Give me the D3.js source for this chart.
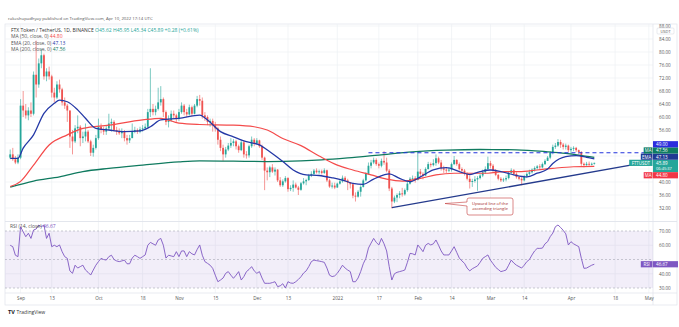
<!DOCTYPE html>
<html><head><meta charset="utf-8">
<script src="https://cdnjs.cloudflare.com/ajax/libs/d3/7.8.5/d3.min.js"></script>
<style>
html,body{margin:0;padding:0;background:#fff;}
svg{display:block;font-family:"Open Sans","Liberation Sans",Arial,sans-serif;}
</style></head><body>
<svg id="chart" width="679" height="327"></svg>
<script>
// ---------------- DATA (daily FTT/USDT candles, first bar 2021-08-28) ----------------
const firstBarDate = "2021-08-28";
const firstOpen = 47.5;
const closes = [
48.5,47.0,46.0,47.5,63.5,62.0,60.5,62.0,61.0,73.0,
70.0,76.5,79.0,72.5,74.0,72.5,67.5,66.0,70.0,68.5,
64.5,63.5,62.0,54.0,52.5,56.5,57.0,53.5,54.0,55.5,
52.5,49.0,50.5,53.5,57.0,56.0,55.5,56.5,58.0,58.5,
56.0,55.5,55.0,55.5,53.5,52.8,53.5,55.5,56.0,55.5,
56.2,56.5,57.0,61.5,62.5,61.5,62.5,64.5,65.5,61.5,
58.5,59.0,61.0,60.5,59.5,61.5,63.5,61.5,60.8,63.0,
61.0,63.5,65.5,65.0,60.5,60.0,58.5,58.8,57.5,56.5,
53.0,50.5,48.5,50.0,51.2,52.0,52.5,51.0,49.8,52.2,
48.5,48.2,51.0,53.0,52.0,52.8,51.0,47.5,43.5,43.0,
44.5,43.2,43.8,40.5,39.0,40.2,41.2,37.8,38.2,39.2,
38.3,37.6,39.6,40.2,40.6,42.0,42.5,43.5,43.0,43.3,
42.8,43.6,40.5,38.6,38.9,38.3,39.5,40.2,41.3,40.5,
39.8,39.3,35.8,35.5,37.0,38.5,40.5,42.5,45.0,46.0,
46.8,45.5,45.0,46.5,46.0,43.5,38.0,34.0,35.2,36.0,
36.5,36.2,37.5,39.5,41.0,41.2,40.6,43.2,42.5,42.0,
44.0,45.5,45.2,45.8,47.3,46.0,44.2,43.8,43.5,43.8,
45.5,46.8,45.5,44.0,43.5,42.5,41.0,40.0,40.3,40.8,
41.2,42.0,43.0,44.0,45.8,45.0,43.5,42.2,41.0,40.5,
40.8,41.2,42.8,43.6,42.5,41.5,41.0,40.5,41.8,42.5,
43.0,43.8,44.3,44.8,44.5,45.5,46.5,47.5,49.0,50.8,
51.2,52.3,51.5,50.8,51.2,49.8,50.2,50.5,49.8,49.2,
45.6,45.2,45.6,45.3,45.61,45.89];
const highs = [
50,50.5,48,48.5,65.5,68,64,63,64.5,74,
83.5,78,81,79.5,75,75.5,73,69,71,71.5,
69,66,64,62,56,57.5,60.5,57.5,55.5,58,
56,53,51.5,54.5,59.5,58,57,57.5,61,59.5,
59,57,56.5,56.5,56,54.5,54.5,58,57,56.5,
57,57.5,58,62.5,75,64,63.5,69,69.5,66,
62,60.5,62,62,61,62.5,64.5,64,62.5,63.8,
63.5,64,66.5,66.8,66,61.5,60.5,59.5,59.5,58.5,
57,54,51.5,50.8,52,53.5,53.2,53,51.5,53,
52.8,49.5,51.5,54,53.5,53.5,53,51.5,47.8,44.5,
45,45.5,44.5,44,41.5,40.8,41.8,41.5,39,40.5,
39.8,38.8,40,41.2,41,42.5,43.3,44,44.2,43.8,
43.8,44.2,43.8,41,39.8,39.8,39.8,40.8,42,41.8,
41,40,39.5,36.8,37.5,39,41,43,46,46.8,
47.5,47.3,46,47.2,49.5,47.5,44,38.5,35.8,36.5,
37.2,38.2,38,40,41.5,42,41.8,49.5,44,43,
44.5,46.2,46,47,48.5,47.8,46.8,45,44.5,44.5,
46,48,47,46,44.5,44,43,42,41,41.8,
41.8,42.5,43.8,44.8,47.8,46.5,45.5,44,42.5,41.5,
41.3,42,43.2,44.2,44,43,41.8,41.5,42.2,43,
43.8,44.2,44.8,45.2,45.5,46,47,48,49.5,51.5,
52,53.2,53,52,51.8,51.5,50.8,51,50.8,50,
49.5,46,46.2,46.3,46,45.95];
const lows = [
47,46.5,45.5,45.5,47,60,59.5,59,60,60.5,
66,69,75,71.5,71,71.5,66,64.5,65.5,67.5,
63.5,62.5,58.5,50.5,48.5,52,55,51,52,52.5,
52,48,47.8,50,53,55,54.5,54.5,56,55.5,
55.5,54.5,54.5,53.5,52.5,51.5,52,53.5,55,54.8,
55,55.5,56,56.5,60,60.5,60.5,62,63.5,60,
57.5,56.8,58.5,59.5,58.5,58.8,61,60.5,60,60.5,
60.3,60.8,63,63.5,59.5,58.8,57.5,57,55.5,55.5,
51.5,49.5,46.5,47.5,49.5,50.5,51,50,49,49.5,
47.5,47.2,47.5,50.5,51,51.5,50.5,46.8,37.5,40.5,
41.5,42.8,42,40,38.5,38.5,39.8,37,37.2,37,
38,36,37.3,39.2,39,40.3,41.5,42,42.6,42.5,
42.3,42.5,40,38.2,38,37.8,38.2,39.2,39.8,40,
37.5,38,35,34,35.2,35.5,38.3,40.2,42.2,44.2,
45.5,45,44.2,44.5,45.3,43,37.2,31.9,33.5,33.8,
35,35.5,35.8,37,39.2,40.3,39.8,40.5,41.8,40.8,
41.8,43.8,44.5,44.8,45,45.5,43.5,42.8,42.8,43,
43.2,45.2,45,43.5,42.8,42,40.5,38,38.5,39.8,
37.3,40.8,41.5,42.5,43.5,44.2,43,41.8,40.5,40,
40,40.2,40.8,42.5,42,41,40.5,39,40.2,41.2,
42,42.6,43.2,43.8,44,44.2,45.2,46.5,47,48.5,
50.2,50.8,50.5,50,50,49.2,48.5,49.5,49.2,48.5,
45,44.5,45,45,45.1,45.34];
const rsiValues = [
60,59,53,52,73,69.5,66,68.4,64.8,70.7,
71.4,74.2,73,74.2,64.8,68.4,59,60,59,60.2,
55.5,52,50.8,42,40.3,46,44,45,46,42.6,
41,39.1,42.6,46,48.5,50.8,50,49.6,52,53,
50,49,48.5,49,49.6,47,47,51,53,52,
50.8,52,53.2,60,62,61,60,63.7,64.8,60,
51,53,52.5,52,55.5,52,56,56,52,55.5,
54,53.2,57,60.2,53,48.5,47.3,46,43.8,39,
34.4,35.6,37,40.3,41.5,39,36.8,39,41.5,35.6,
38,41.5,43,45,42,40.3,41.5,37,33.3,33.3,
33.3,33.8,34.4,31,31.5,33,30,34.4,33.5,33.3,
34.4,36,37.9,40.5,42,45,48.5,49.6,49.2,48.9,
48.5,48,44,39,38,38.5,40.3,43,46,44,
42.6,41.5,34.4,34.4,37,41.5,47,50.8,58,61.5,
64.8,62,60.2,64.8,61,56,45,35.6,40,41,
41.5,42,42.6,48,54.3,54,53.2,60.2,58,55.5,
60,61.3,60.2,61,63.7,60,56,53.2,53.2,53.2,
56,59,55,51,49,47.3,44,42,43.5,44.5,
45.5,48,50.8,52,53.2,49.5,47,44.5,43,41.5,
42,42.6,46,49.6,47.5,46,45,44,46,48.5,
50,53.2,56,57.8,57.8,58,61,62.5,66,68.5,
73,74.2,72.5,70.5,68,60.2,62.5,61,60,59,
50.8,43.8,44,45,46,46.67];
// moving averages: [bar index, value]
const ma50Points = [[0,38.6],[4,40.2],[9,45.2],[15,51.4],[22,54.5],[28,56.5],[38,57.5],[51,59.1],[58,59.6],[65,58.1],[73,57.7],[86,57.5],[94,57.0],[99,56.0],[105,53.4],[112,51.2],[119,48.0],[126,45.2],[132,43.7],[139,42.2],[145,40.9],[151,40.3],[158,41.1],[164,42.2],[171,42.7],[184,42.7],[190,43.2],[196,43.2],[203,43.7],[209,44.2],[217,44.7],[225,44.8]];
const ema20Points = [[0,47.3],[3,47.3],[5,50.4],[9,54.5],[13,61.1],[17,64.2],[19,65.2],[22,64.7],[26,62.2],[29,59.6],[33,56.5],[38,56.0],[44,55.5],[50,55.7],[54,57.0],[58,59.1],[65,59.6],[73,60.6],[76,59.1],[81,55.5],[86,53.9],[91,52.4],[96,51.4],[100,49.3],[105,46.3],[109,43.7],[114,42.2],[119,42.0],[124,41.3],[128,40.6],[132,39.6],[136,39.3],[140,40.9],[144,42.2],[146,42.5],[150,41.1],[154,40.1],[158,41.6],[163,43.7],[168,44.4],[173,43.2],[177,42.3],[181,43.2],[185,43.7],[189,43.2],[194,42.2],[199,41.6],[203,42.7],[207,44.0],[209,45.7],[214,47.8],[218,48.1],[222,47.6],[225,47.13]];
const ma200Points = [[0,38.4],[9,40.3],[19,41.6],[28,43.2],[38,44.2],[51,45.2],[65,46.2],[73,46.5],[86,46.4],[99,46.3],[112,46.5],[120,46.8],[130,47.4],[142,48.3],[155,49.3],[168,49.8],[181,50.0],[195,49.9],[207,49.3],[214,48.8],[219,48.3],[225,47.56]];
const resistanceLevel = 49.0;
const resistanceStartIdx = 138;
const trendlinePoints = [[147,32.1],[246,46.2]];
const calloutLines = ["Upward line of the","ascending triangle"];
const priceTicks = [32,36,40,44,48,52,56,60,64,68,72,76,80,84,88];
const rsiTicks = [30,40,50,60,70];
const timeTickDates = ["2021-09-01","2021-09-13","2021-10-01","2021-10-18","2021-11-01","2021-11-15","2021-12-01","2021-12-13","2022-01-01","2022-01-17","2022-02-01","2022-02-14","2022-03-01","2022-03-14","2022-04-01","2022-04-18","2022-05-01"];
const timeTickLabels = ["Sep","13","Oct","18","Nov","15","Dec","13","2022","17","Feb","14","Mar","14","Apr","18","May"];

// ---------------- SETUP ----------------
const svg = d3.select("#chart");
const parse = d3.utcParse("%Y-%m-%d");
const DAY = 86400000;
const t0 = parse(firstBarDate);
const dateAt = i => new Date(t0.getTime() + i*DAY);
const opens = closes.map((c,i)=> i===0 ? firstOpen : closes[i-1]);
opens[opens.length-1] = 45.62;
const bars = closes.map((c,i)=>({d:dateAt(i),o:opens[i],h:highs[i],l:lows[i],c}));

const L=5, R=653, PT=24, PB=221.5, RT=221.5, RB=293, AX=305, RIGHT=677;
const xStart = new Date(Date.UTC(2021,7,26));
const x = d3.scaleUtc().domain([xStart, new Date(xStart.getTime()+249.6*DAY)]).range([L,R]);
const y = d3.scaleLinear().domain([32,88]).range([208,26]);
const yr = d3.scaleLinear().domain([30,70]).range([288,231]);

const gridC = "#eef0f4", borderC="#e0e3eb", axisText="#555";
const fmt = d3.format(".2f");

// header text
svg.append("text").attr("x",8).attr("y",19.5).attr("font-size",4.3).attr("fill","#555")
  .text("rakeshupadhyay published on TradingView.com, Apr 10, 2022 17:14 UTC");

// frame
svg.append("rect").attr("x",L).attr("y",PT).attr("width",RIGHT-L).attr("height",AX-PT).attr("fill","none").attr("stroke",borderC).attr("stroke-width",0.7);

// grids
const tDates = timeTickDates.map(parse);
svg.append("g").selectAll("line").data(tDates).join("line")
  .attr("x1",d=>x(d)).attr("x2",d=>x(d)).attr("y1",PT).attr("y2",RB).attr("stroke",gridC).attr("stroke-width",0.7);
svg.append("g").selectAll("line").data(priceTicks).join("line")
  .attr("x1",L).attr("x2",R).attr("y1",d=>y(d)).attr("y2",d=>y(d)).attr("stroke",gridC).attr("stroke-width",0.7);
svg.append("g").selectAll("line").data([40,60]).join("line")
  .attr("x1",L).attr("x2",R).attr("y1",d=>yr(d)).attr("y2",d=>yr(d)).attr("stroke",gridC).attr("stroke-width",0.7);

// separators
svg.append("line").attr("x1",R).attr("x2",R).attr("y1",PT).attr("y2",AX).attr("stroke",borderC).attr("stroke-width",0.7);
svg.append("line").attr("x1",L).attr("x2",RIGHT).attr("y1",PB).attr("y2",PB).attr("stroke",borderC).attr("stroke-width",0.9);
svg.append("line").attr("x1",L).attr("x2",RIGHT).attr("y1",RB).attr("y2",RB).attr("stroke",borderC).attr("stroke-width",0.7);

// clips
const defs = svg.append("defs");
defs.append("clipPath").attr("id","cp").append("rect").attr("x",L).attr("y",PT).attr("width",R-L).attr("height",PB-PT);
defs.append("clipPath").attr("id","cr").append("rect").attr("x",L).attr("y",RT).attr("width",R-L).attr("height",RB-RT);

const pg = svg.append("g").attr("clip-path","url(#cp)");
const up="#26a69a", dn="#ef5350";
// candles
const cg = pg.append("g");
cg.selectAll("line").data(bars).join("line")
  .attr("x1",d=>x(d.d)).attr("x2",d=>x(d.d)).attr("y1",d=>y(d.h)).attr("y2",d=>y(d.l))
  .attr("stroke",d=>d.c>=d.o?up:dn).attr("stroke-width",0.6);
cg.selectAll("rect").data(bars).join("rect")
  .attr("x",d=>x(d.d)-0.9).attr("width",1.8)
  .attr("y",d=>y(Math.max(d.o,d.c))).attr("height",d=>Math.max(0.6,Math.abs(y(d.o)-y(d.c))))
  .attr("fill",d=>d.c>=d.o?up:dn);

// lines
const lineGen = d3.line().x(d=>x(dateAt(d[0]))).y(d=>y(d[1])).curve(d3.curveMonotoneX);
pg.append("path").attr("d",lineGen(ma200Points)).attr("fill","none").attr("stroke","#0f7a5f").attr("stroke-width",1.3);
pg.append("path").attr("d",lineGen(ma50Points)).attr("fill","none").attr("stroke","#f44b4b").attr("stroke-width",1.2);
pg.append("path").attr("d",lineGen(ema20Points)).attr("fill","none").attr("stroke","#2438a6").attr("stroke-width",1.3);

// resistance dashed line
pg.append("line").attr("x1",x(dateAt(resistanceStartIdx))).attr("x2",R).attr("y1",y(resistanceLevel)).attr("y2",y(resistanceLevel))
  .attr("stroke","#2233dd").attr("stroke-width",1).attr("stroke-dasharray","4,3");
// trendline
pg.append("path").attr("d",d3.line().x(d=>x(dateAt(d[0]))).y(d=>y(d[1]))(trendlinePoints))
  .attr("fill","none").attr("stroke","#243a8c").attr("stroke-width",1.4);

// callout
const cx0=467, cy0=198, cw=46, ch=17, tipX=445, tipY=203.5;
pg.append("path").attr("d",`M${cx0+2},${cy0} H${cx0+cw-2} Q${cx0+cw},${cy0} ${cx0+cw},${cy0+2} V${cy0+ch-2} Q${cx0+cw},${cy0+ch} ${cx0+cw-2},${cy0+ch} H${cx0+2} Q${cx0},${cy0+ch} ${cx0},${cy0+ch-2} V${cy0+8} L${tipX},${tipY} L${cx0},${cy0+4} V${cy0+2} Q${cx0},${cy0} ${cx0+2},${cy0} Z`)
  .attr("fill","#fff").attr("stroke","#c23a3a").attr("stroke-width",0.6);
calloutLines.forEach((t,i)=>{
  pg.append("text").attr("x",cx0+cw/2).attr("y",cy0+6.5+i*5).attr("text-anchor","middle").attr("font-size",4.2).attr("fill","#a52a2a").text(t);
});

// RSI pane
const rg = svg.append("g").attr("clip-path","url(#cr)");
rg.append("rect").attr("x",L).attr("width",R-L).attr("y",yr(70)).attr("height",yr(30)-yr(70)).attr("fill","#7e57c2").attr("fill-opacity",0.1);
[70,50,30].forEach(v=>rg.append("line").attr("x1",L).attr("x2",R).attr("y1",yr(v)).attr("y2",yr(v)).attr("stroke","#a6a8b3").attr("stroke-width",0.6).attr("stroke-dasharray","2,2"));
rg.append("path").attr("d",d3.line().x((d,i)=>x(dateAt(i))).y(d=>yr(d))(rsiValues)).attr("fill","none").attr("stroke","#7e57c2").attr("stroke-width",0.9);

// ---------- price-scale labels (collision stacked around the last price) ----------
const BH = 6.2;
const last = bars.length-1;
const b = bars[last], chg = b.c - closes[last-1];
const mainY = y(b.c);
const labels = [];
labels.push({v:b.c, c:mainY, top:mainY-BH/2, bottom:mainY-BH/2+12.4, color:up, tag:"FTTUSDT", text:fmt(b.c), sub:"06:45:37"});
const above = [
  {v:ema20Points[ema20Points.length-1][1], color:"#1f3a93", tag:"EMA"},
  {v:ma200Points[ma200Points.length-1][1], color:"#0e7c61", tag:"MA"},
  {v:resistanceLevel, color:"#2b2bdd", tag:null}
];
let prevTop = labels[0].top;
above.forEach(l=>{ const c = Math.min(y(l.v), prevTop-BH/2); l.c=c; l.top=c-BH/2; l.bottom=c+BH/2; l.text=fmt(l.v); prevTop=l.top; labels.push(l); });
const below = [{v:ma50Points[ma50Points.length-1][1], color:"#f23645", tag:"MA"}];
let prevBottom = labels[0].bottom;
below.forEach(l=>{ const c = Math.max(y(l.v), prevBottom+BH/2); l.c=c; l.top=c-BH/2; l.bottom=c+BH/2; l.text=fmt(l.v); prevBottom=l.bottom; labels.push(l); });
const hidden = v => labels.some(l => y(v) > l.top-2.5 && y(v) < l.bottom+2.5);

// axes
const pa = svg.append("g").attr("transform",`translate(${R},0)`).call(d3.axisRight(y).tickValues(priceTicks.filter(v=>!hidden(v))).tickSize(0).tickPadding(6).tickFormat(fmt));
pa.select(".domain").remove();
pa.selectAll("text").attr("font-size",4.6).attr("fill",axisText).attr("font-family","'Open Sans',sans-serif");
const rsiLast = rsiValues[rsiValues.length-1];
const ra = svg.append("g").attr("transform",`translate(${R},0)`).call(d3.axisRight(yr).tickValues(rsiTicks.filter(v=>Math.abs(yr(v)-yr(rsiLast))>5.5)).tickSize(0).tickPadding(6).tickFormat(fmt));
ra.select(".domain").remove();
ra.selectAll("text").attr("font-size",4.6).attr("fill",axisText).attr("font-family","'Open Sans',sans-serif");
const ta = svg.append("g").attr("transform",`translate(0,${RB})`).call(d3.axisBottom(x).tickValues(tDates).tickSize(0).tickPadding(4).tickFormat((d,i)=>timeTickLabels[i]));
ta.select(".domain").remove();
ta.selectAll("text").attr("font-size",4.6).attr("fill",axisText).attr("font-family","'Open Sans',sans-serif");

// USDT tag on axis
svg.append("rect").attr("x",657).attr("y",28).attr("width",17).attr("height",6).attr("fill","#fff").attr("stroke","#d1d4dc").attr("stroke-width",0.5).attr("rx",1);
svg.append("text").attr("x",665.5).attr("y",31.2).attr("text-anchor","middle").attr("dominant-baseline","central").attr("font-size",4).attr("fill","#555").text("USDT");

// legends
const lg = svg.append("g").attr("font-size",5);
const l1 = lg.append("text").attr("x",11).attr("y",32).attr("fill","#333");
l1.append("tspan").text("FTX Token / TetherUS, 1D, BINANCE ");
l1.append("tspan").attr("fill",up).text(` O${fmt(b.o)}  H${fmt(b.h)}  L${fmt(b.l)}  C${fmt(b.c)}  +${fmt(chg)} (+${fmt(chg/closes[last-1]*100)}%)`);
const legendRows = [["MA (50, close, 0)", ma50Points, "#f44b4b"],["EMA (20, close, 0)", ema20Points, "#2438a6"],["MA (200, close, 0)", ma200Points, "#0f7a5f"]];
legendRows.forEach((r,i)=>{
  const t = lg.append("text").attr("x",11).attr("y",38.3+i*6.2).attr("fill","#555");
  t.append("tspan").text(r[0]+" ");
  t.append("tspan").attr("fill",r[2]).text(" "+fmt(r[1][r[1].length-1][1]));
});
const rl = lg.append("text").attr("x",10).attr("y",227.5).attr("fill","#555");
rl.append("tspan").text("RSI (14, close) ");
rl.append("tspan").attr("fill","#7e57c2").text(" "+fmt(rsiLast));

function drawLabel(l){
  svg.append("rect").attr("x",R).attr("y",l.top).attr("width",RIGHT-R+1).attr("height",l.bottom-l.top).attr("fill",l.color);
  svg.append("text").attr("x",R+3).attr("y",l.c).attr("dominant-baseline","central").attr("font-size",4.6).attr("fill","#fff").text(l.text);
  if(l.sub) svg.append("text").attr("x",R+3).attr("y",l.c+6).attr("dominant-baseline","central").attr("font-size",4).attr("fill","#fff").text(l.sub);
  if(l.tag){
    const w = l.tag.length*2.9+3;
    svg.append("rect").attr("x",R-0.5-w).attr("y",l.c-BH/2).attr("width",w).attr("height",BH).attr("fill",l.color);
    svg.append("text").attr("x",R-0.5-w/2).attr("y",l.c).attr("text-anchor","middle").attr("dominant-baseline","central").attr("font-size",4.4).attr("fill","#fff").text(l.tag);
  }
}
labels.forEach(drawLabel);
// RSI label
const rc = yr(rsiLast);
drawLabel({c:rc, top:rc-BH/2, bottom:rc+BH/2, color:"#7e57c2", tag:"RSI", text:fmt(rsiLast)});

// TradingView logo
svg.append("text").attr("x",8).attr("y",314).attr("font-size",5.5).attr("font-weight","bold").attr("fill","#131722").text("TV");
svg.append("text").attr("x",16.5).attr("y",314).attr("font-size",5).attr("fill","#333").text("TradingView");
</script></body></html>
